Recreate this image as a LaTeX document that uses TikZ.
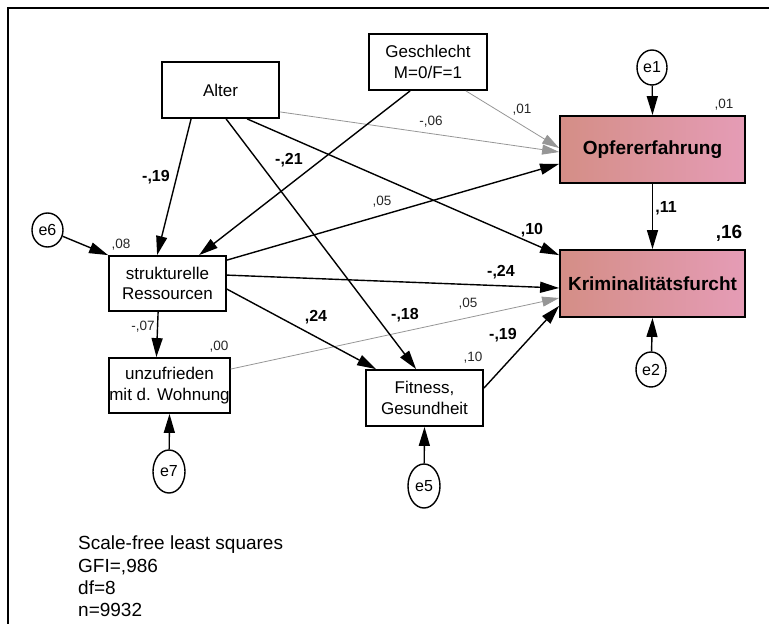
\documentclass[tikz,border=0pt]{standalone}
\usepackage{fontspec}
\setmainfont{Liberation Sans}
\usetikzlibrary{arrows.meta,calc,shapes.geometric}
\definecolor{edgegray}{RGB}{150,150,150}
\definecolor{roseL}{RGB}{212,142,134}
\definecolor{roseR}{RGB}{229,156,182}

\begin{document}
\begin{tikzpicture}[x=1pt,y=-1pt,
  var/.style={draw=black, line width=1.8pt, rectangle, inner sep=0pt,
    minimum width=117pt, minimum height=56pt, align=center,
    font=\fontsize{17}{20.5}\selectfont},
  outcome/.style={var, minimum width=185pt, minimum height=67pt,
    left color=roseL, right color=roseR,
    font=\bfseries\fontsize{19}{22}\selectfont},
  err/.style={draw, ellipse, line width=1.4pt, inner sep=0pt,
    minimum width=30pt, minimum height=35pt, font=\fontsize{16}{18}\selectfont},
  errtall/.style={err, minimum width=32pt, minimum height=43pt},
  path/.style={line width=1.4pt, -{Triangle[length=19pt,width=11pt]}},
  weak/.style={line width=0.8pt, draw=edgegray, edgegray,
    -{Triangle[length=17pt,width=10pt]}},
  coef/.style={inner sep=0pt, font=\bfseries\fontsize{16}{18}\selectfont},
  bigcoef/.style={inner sep=0pt, font=\bfseries\fontsize{19}{22}\selectfont},
  small/.style={inner sep=0pt, font=\fontsize{13.5}{15}\selectfont, text=black!85},
]
\useasboundingbox (0,0) rectangle (769,624);

% frame
\draw[line width=1.6pt] (8,624) -- (8,8) -- (769,8);

% observed variables
\node[var] (alter) at (220.5,90) {Alter};
\node[var, minimum width=118pt] (gesch) at (428,62) {Geschlecht\\M=0/F=1};
\node[outcome] (opf) at (652.5,149.5) {Opfererfahrung};
\node[outcome] (krim) at (652.5,283.5) {Kriminalitätsfurcht};
\node[var, minimum height=55pt] (strukt) at (167.5,283.5) {strukturelle\\Ressourcen};
\node[var, minimum height=55pt] (unzuf) at (169.5,385.5) {unzufrieden\\mit d. Wohnung};
\node[var] (fit) at (424.5,398) {Fitness,\\Gesundheit};

% residuals
\node[err] (e1) at (652,67.5) {e1};
\node[err] (e2) at (651,369.5) {e2};
\node[err, minimum width=31pt, minimum height=34pt] (e6) at (47.5,230) {e6};
\node[errtall] (e7) at (169,471.5) {e7};
\node[errtall, minimum height=44pt] (e5) at (424,486) {e5};

% residual paths
\draw[path] (e1) -- (opf.north);
\draw[path] (e2) -- (krim.south);
\draw[path] (e6) -- (strukt.north west);
\draw[path] (e7) -- (unzuf.south);
\draw[path] (e5) -- (fit.south);

% weak (non-significant) paths
\draw[weak] ($(alter.south east)+(0,-7)$) -- ($(opf.west)+(0,2.5)$);
\draw[weak] ($(gesch.south east)+(-22,0)$) -- ($(opf.west)+(0,-1.5)$);
\draw[weak] ($(unzuf.north east)+(0,12)$) -- ($(krim.west)+(0,14.5)$);

% structural paths
\draw[path] ($(gesch.south west)+(42,0)$) -- ($(strukt.north west)+(91,0)$);
\draw[path] ($(alter.south west)+(30,0)$) -- ($(strukt.north west)+(49,0)$);
\draw[path] ($(alter.south west)+(86,0)$) -- ($(krim.north west)+(0,6)$);
\draw[path] ($(alter.south west)+(65,0)$) -- ($(fit.north west)+(51,0)$);
\draw[path] ($(strukt.north east)+(0,5)$) -- ($(opf.south west)+(0,-20)$);
\draw[path] ($(strukt.north east)+(0,20)$) -- ($(krim.west)+(0,4.5)$);
\draw[path] ($(strukt.north east)+(0,34)$) -- ($(fit.north west)+(11,0)$);
\draw[path] ($(strukt.south west)+(50,0)$) -- ($(unzuf.north west)+(48,0)$);
\draw[path] ($(fit.north east)+(0,19)$) -- ($(krim.south west)+(0,-12)$);
\draw[path] (opf.south) -- (krim.north);

% squared multiple correlations
\node[small] (r2opf) at (724,105) {,01};
\node[bigcoef] (r2krim) at (729,233) {,16};
\node[small] (r2strukt) at (121,245) {,08};
\node[small] (r2unzuf) at (219,347) {,00};
\node[small] (r2fit) at (473,358) {,10};

% path coefficients
\node[coef] (c1) at (666,208) {,11};
\node[coef] (c2) at (156,177) {-,19};
\node[coef] (c3) at (289,160) {-,21};
\node[coef] (c4) at (532,230) {,10};
\node[coef] (c5) at (501,272) {-,24};
\node[coef] (c6) at (316,317) {,24};
\node[coef] (c7) at (405,315) {-,18};
\node[coef] (c8) at (503,335) {-,19};
\node[small] (c9) at (431,122) {-,06};
\node[small] (c10) at (522,110) {,01};
\node[small] (c11) at (382,202) {,05};
\node[small] (c12) at (468,304) {,05};
\node[small] (c13) at (143,327) {-,07};

% fit summary
\node[anchor=north west, inner sep=0pt, align=left,
  font=\fontsize{19}{22.3}\selectfont] (fitinfo) at (78,536)
  {Scale-free least squares\\GFI=,986\\df=8\\n=9932};
\end{tikzpicture}
\end{document}
